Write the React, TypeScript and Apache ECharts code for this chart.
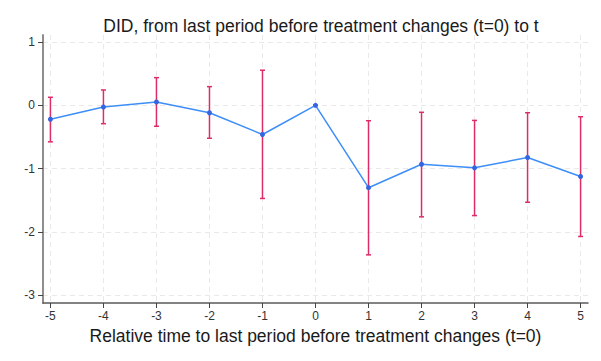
import React, { useEffect, useRef } from "react";
import * as echarts from "echarts";

const periods = [-5, -4, -3, -2, -1, 0, 1, 2, 3, 4, 5];
const estimates = [-0.22, -0.027, 0.052, -0.117, -0.46, 0, -1.3, -0.93, -0.987, -0.823, -1.123];
const ciUpper = [0.127, 0.242, 0.437, 0.295, 0.554, 0, -0.243, -0.11, -0.238, -0.117, -0.18];
const ciLower = [-0.576, -0.29, -0.33, -0.52, -1.47, 0, -2.36, -1.76, -1.74, -1.53, -2.07];
const xTicks = [-5, -4, -3, -2, -1, 0, 1, 2, 3, 4, 5];
const yTicks = [-3, -2, -1, 0, 1];

const FONT = "'Liberation Sans', Arial, sans-serif";

export default function App() {
  const ref = useRef<HTMLDivElement>(null);
  useEffect(() => {
    if (!ref.current) return;
    const chart = echarts.init(ref.current, undefined, { renderer: "svg" });
    const gridLine = { show: true, lineStyle: { color: "#e9e9e9", type: [5, 4] as any, width: 1 } };
    chart.setOption({
      animation: false,
      backgroundColor: "#ffffff",
      title: {
        text: "DID, from last period before treatment changes (t=0) to t",
        left: 316,
        textAlign: "center",
        top: 12,
        textStyle: { fontFamily: FONT, fontSize: 17.5, fontWeight: "normal", color: "#1a1a1a" },
      },
      grid: { left: 43, right: 13, top: 35, bottom: 58 },
      xAxis: {
        type: "value",
        min: -5.14,
        max: 5.14,
        name: "Relative time to last period before treatment changes (t=0)",
        nameLocation: "middle",
        nameGap: 24,
        nameTextStyle: { fontFamily: FONT, fontSize: 17.5, color: "#1a1a1a" },
        axisLine: { show: true, onZero: false, lineStyle: { color: "#5a5a5a", width: 1.5 } },
        axisTick: { show: true, length: 5, customValues: xTicks, lineStyle: { color: "#444" } },
        axisLabel: {
          customValues: xTicks,
          margin: 7,
          fontFamily: FONT,
          fontSize: 12,
          color: "#333",
        },
        splitLine: gridLine,
      },
      yAxis: {
        type: "value",
        min: -3.12,
        max: 1.11,
        axisLine: { show: true, onZero: false, lineStyle: { color: "#8e8e8e", width: 2 } },
        axisTick: { show: true, length: 5, customValues: yTicks, lineStyle: { color: "#444" } },
        axisLabel: {
          customValues: yTicks,
          margin: 8,
          fontFamily: FONT,
          fontSize: 12,
          color: "#333",
        },
        splitLine: gridLine,
      },
      series: [
        {
          type: "custom",
          data: periods.map((p, i) => [p, ciLower[i], ciUpper[i]]),
          renderItem: (params: any, api: any) => {
            const x = api.value(0);
            const lo = api.coord([x, api.value(1)]);
            const hi = api.coord([x, api.value(2)]);
            const cap = 2.5;
            const style = { stroke: "#dd2d66", lineWidth: 1.5 };
            return {
              type: "group",
              children: [
                { type: "line", shape: { x1: lo[0], y1: lo[1], x2: hi[0], y2: hi[1] }, style },
                { type: "line", shape: { x1: hi[0] - cap, y1: hi[1], x2: hi[0] + cap, y2: hi[1] }, style },
                { type: "line", shape: { x1: lo[0] - cap, y1: lo[1], x2: lo[0] + cap, y2: lo[1] }, style },
              ],
            };
          },
          z: 2,
        },
        {
          type: "line",
          data: periods.map((p, i) => [p, estimates[i]]),
          symbol: "circle",
          symbolSize: 5,
          lineStyle: { color: "#3d8ef8", width: 1.5 },
          itemStyle: { color: "#3565e0" },
          z: 3,
        },
      ],
    });
    return () => chart.dispose();
  }, []);
  return (
    <div
      ref={ref}
      style={{ position: "fixed", left: 0, top: 0, width: 601, height: 361, background: "#fff" }}
    />
  );
}
